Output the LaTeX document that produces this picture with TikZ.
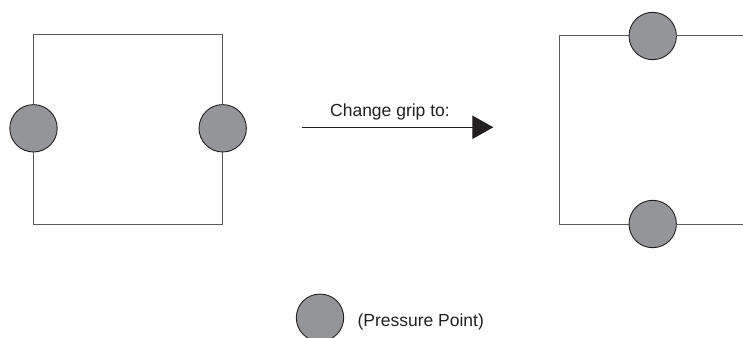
\documentclass[tikz,border=0pt]{standalone}
\usepackage{fontspec}
\setmainfont{Liberation Sans}
\usetikzlibrary{arrows.meta}
\definecolor{edgegray}{HTML}{58595B}
\definecolor{ptfill}{HTML}{939598}
\definecolor{inkblack}{HTML}{231F20}
\tikzset{
  ppoint/.style={circle, draw=inkblack, fill=ptfill, line width=0.9pt, minimum size=47.4pt, inner sep=0pt, outer sep=0pt},
  frame/.style={draw=edgegray, line width=1pt},
  label/.style={text=inkblack, font=\fontsize{17.5}{21}\selectfont},
  bigarrow/.style={draw=inkblack, line width=1pt, -{Triangle[length=21pt, width=23.4pt]}}
}
\begin{document}
\begin{tikzpicture}[x=1pt, y=-1pt]
\useasboundingbox (0,0) rectangle (743,337);
\clip (0,0) rectangle (743,337);
% left square
\coordinate (ltl) at (33.5,35);
\coordinate (ltr) at (222.7,35);
\coordinate (lbl) at (33.5,224);
\coordinate (lbr) at (222.7,224);
\node[ppoint] (L) at (33.5,128.3) {};
\node[ppoint] (R) at (222.7,128.3) {};
\draw[frame] (L.north) -- (ltl) -- (ltr) -- (R.north);
\draw[frame] (L.south) -- (lbl) -- (lbr) -- (R.south);
% right shape
\coordinate (rtl) at (559.3,36);
\coordinate (rbl) at (559.3,224);
\coordinate (rte) at (743,36);
\coordinate (rbe) at (743,224);
\node[ppoint] (T) at (652.7,36) {};
\node[ppoint] (B) at (652.7,224) {};
\draw[frame] (T.west) -- (rtl) -- (rbl) -- (B.west);
\draw[frame] (T.east) -- (rte);
\draw[frame] (B.east) -- (rbe);
% arrow
\coordinate (a1) at (301.7,127.3);
\coordinate (a2) at (493.3,127.3);
\draw[bigarrow] (a1) -- (a2);
\node[label, anchor=base] (cg) at (390,116.7) {Change grip to:};
% legend
\node[ppoint] (P) at (320,317.7) {};
\node[label, anchor=base west, inner sep=0pt] (pp) at (357.3,326) {(Pressure Point)};
\end{tikzpicture}
\end{document}
